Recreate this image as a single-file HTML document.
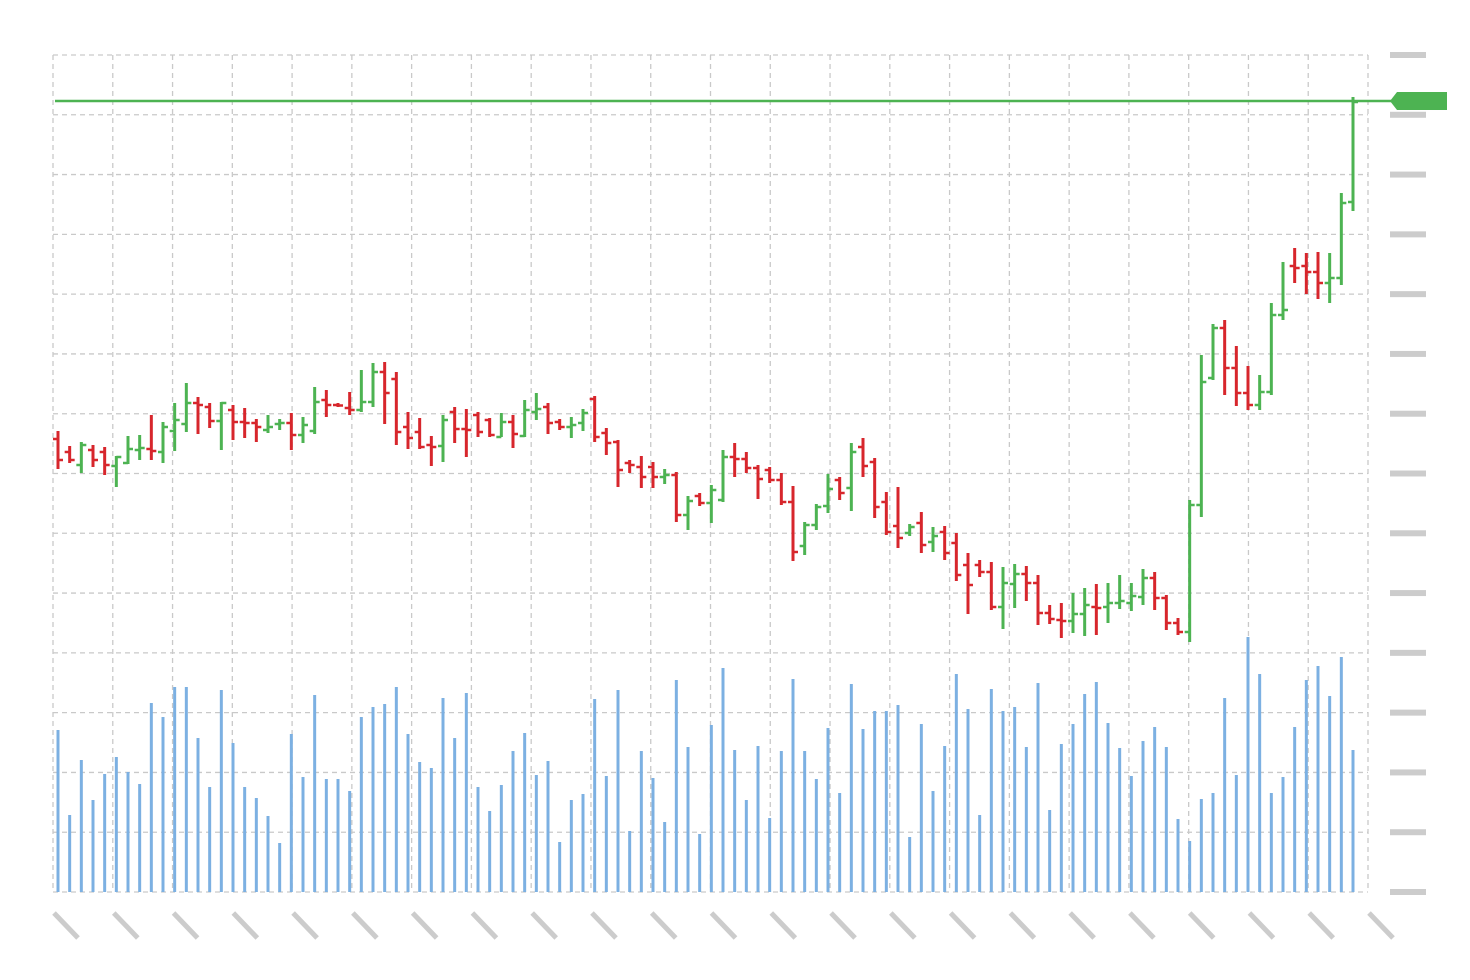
<!DOCTYPE html>
<html>
<head>
<meta charset="utf-8">
<style>
html,body{margin:0;padding:0;background:#fff;}
svg{display:block;}
</style>
</head>
<body>
<svg id="chart" width="1470" height="980" viewBox="0 0 1470 980" xmlns="http://www.w3.org/2000/svg">
  <g id="grid"></g>
  <g id="axis-right"></g>
  <g id="axis-bottom"></g>
  <g id="volume"></g>
  <g id="bars"></g>
  <g id="last"></g>
</svg>
<script>
const opens  = [561,548,535,550,548,534,537,550,551,548,569,576,597,593,579,590,578,577,570,576,577,565,569,600,595,592,590,598,628,621,573,568,555,554,588,571,585,580,563,578,564,588,593,578,573,577,601,567,558,537,533,533,523,525,485,504,497,500,543,541,532,530,520,498,454,475,494,520,512,553,538,498,474,467,477,458,468,457,435,435,428,393,416,426,417,387,380,379,386,393,393,397,397,403,422,402,377,368,495,622,672,632,607,595,608,685,734,734,728,717,722,798];
const highs  = [569,554,558,555,553,544,564,565,585,578,597,617,603,597,598,595,592,581,585,581,587,583,613,610,597,608,630,637,638,628,588,582,564,585,593,591,588,582,587,585,600,607,597,581,583,591,604,572,560,540,544,538,531,528,504,507,515,550,557,548,535,533,527,514,478,496,526,523,557,562,542,508,513,476,488,473,474,467,447,440,438,433,436,434,425,395,397,407,412,416,417,425,417,431,428,405,382,500,645,676,680,654,634,625,697,738,752,747,748,747,807,903];
const lows   = [531,537,527,533,525,513,536,540,540,537,549,568,566,572,550,560,562,558,567,570,550,557,566,583,593,585,588,593,576,555,551,551,534,538,557,543,563,563,563,552,563,580,566,570,562,569,558,545,513,527,512,512,516,478,470,494,477,498,523,527,501,517,495,439,445,470,487,500,489,523,482,465,452,464,447,448,440,419,386,423,390,371,392,399,375,376,362,367,364,365,377,391,389,395,390,370,365,358,483,620,605,594,590,590,605,680,717,706,701,697,715,789];
const closes = [540,540,555,540,535,543,551,552,549,573,580,597,595,579,597,578,577,573,573,577,565,575,598,595,594.5,590,598,628,607,568,562,553,553,580,571,570,568,565,578,566,590,591,577,573,575,587,563,557,530,535,523,523,525,485,499,497,510,543,541,532,521,520,498,448,475,493,511,507,548,534,493,468,462,473,455,464,447,425,415,428,393,417,426,417,387,381,379,386,395,392,397,399,404,422,402,377,368,495,618,672,632,607,595,608,685,690,732,728,717,722,797,898];
const volumes = [162,77,132,92,118,135,120,108,189,175,205,205,154,105,202,149,105,94,76,49,158,115,197,113,113,101,175,185,188,205,158,130,124,194,154,199,105,81,107,141,159,117,131,50,92,98,193,116,202,61,141,114,70,212,145,58,167,224,142,92,146,74,141,213,141,113,164,99,208,163,181,181,187,55,168,101,146,218,183,77,203,181,185,145,209,82,148,168,198,210,169,144,116,151,165,145,73,51,93,99,194,117,255,218,99,115,165,212,226,196,235,142];
const priceTickCount = 15;
const timeTickCount = 23;

const NS = "http://www.w3.org/2000/svg";
const plotL = 53, plotR = 1368, plotT = 55, plotB = 892;
const n = opens.length;
const x0 = 58, x1 = 1353;
function xScale(i){ return x0 + (x1 - x0) * i / (n - 1); }
// price: value p maps to y = 1000 - p
const pMin = 108, pMax = 945;
function yPrice(p){ return plotB - (p - pMin) / (pMax - pMin) * (plotB - plotT); }
function yVol(v){ return plotB - v; }

function mk(tag, attrs, parent){
  const e = document.createElementNS(NS, tag);
  for (const k in attrs) e.setAttribute(k, attrs[k]);
  parent.appendChild(e);
  return e;
}

// grid
const grid = document.getElementById('grid');
const stepX = (plotR - plotL) / (timeTickCount - 1);
const stepY = (plotB - plotT) / (priceTickCount - 1);
for (let k = 0; k < timeTickCount; k++){
  const x = plotL + k * stepX;
  const l = mk('line', {x1:x, x2:x, y1:plotT, y2:plotB, stroke:'#c9c9c9', 'stroke-width':1.3, 'stroke-dasharray':'5,4'}, grid);
  
  
}
for (let k = 0; k < priceTickCount; k++){
  const y = plotT + k * stepY;
  const l = mk('line', {x1:plotL, x2:plotR, y1:y, y2:y, stroke:'#c9c9c9', 'stroke-width':1.3, 'stroke-dasharray':'5,4'}, grid);
  
  
}
// right axis placeholders
const ar = document.getElementById('axis-right');
for (let k = 0; k < priceTickCount; k++){
  const y = plotT + k * stepY;
  const r = mk('rect', {x:1390, y:y-3, width:36, height:6, fill:'#cccccc'}, ar);
  
  
}
// bottom axis placeholders
const ab = document.getElementById('axis-bottom');
for (let k = 0; k < timeTickCount; k++){
  const x = plotL + k * stepX;
  const l = mk('line', {x1:x+1, y1:913, x2:x+25, y2:938, stroke:'#cccccc', 'stroke-width':5}, ab);
  
  
}
// volume
const vg = document.getElementById('volume');
for (let i = 0; i < n; i++){
  const x = xScale(i);
  const top = yVol(volumes[i]);
  const r = mk('rect', {x:x-1.5, y:top, width:3, height:plotB-top, fill:'#7cb0e2'}, vg);
  
  
}
// OHLC bars
const bg = document.getElementById('bars');
for (let i = 0; i < n; i++){
  const x = xScale(i);
  const col = closes[i] >= opens[i] ? '#4db352' : '#d7262c';
  const g = mk('g', {stroke:col, 'stroke-width':3}, bg);
  
  
  mk('line', {x1:x, x2:x, y1:yPrice(highs[i]), y2:yPrice(lows[i])}, g);
  mk('line', {x1:x-5, x2:x, y1:yPrice(opens[i]), y2:yPrice(opens[i]), 'stroke-width':2.5}, g);
  mk('line', {x1:x, x2:x+5, y1:yPrice(closes[i]), y2:yPrice(closes[i]), 'stroke-width':2.5}, g);
}
// last price line + label
const lg = document.getElementById('last');
const ly = yPrice(closes[n-1]) - 1;
const ll = mk('line', {x1:55, x2:1392, y1:ly, y2:ly, stroke:'#4db352', 'stroke-width':2.5}, lg);


const lp = mk('polygon', {points:`1390,${ly} 1397,${ly-9} 1447,${ly-9} 1447,${ly+9} 1397,${ly+9}`, fill:'#4db352'}, lg);


</script>
</body>
</html>
